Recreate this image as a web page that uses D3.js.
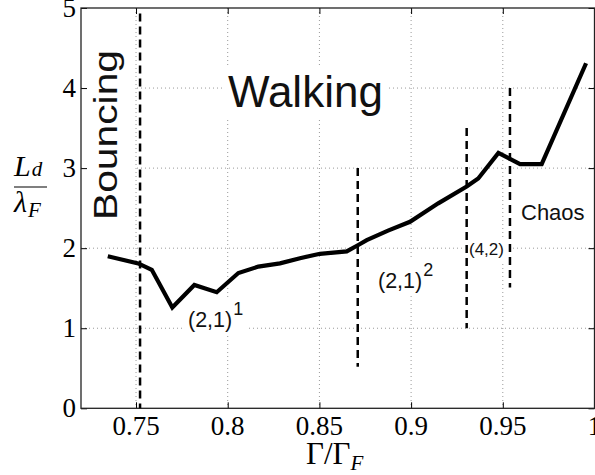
<!DOCTYPE html>
<html>
<head>
<meta charset="utf-8">
<script src="https://cdn.jsdelivr.net/npm/d3@7"></script>
<style>
  body { margin: 0; background: #fff; }
  svg { display: block; }
  .tick-lbl { font-family: "Liberation Serif", "DejaVu Serif", serif; font-size: 27px; fill: #000; }
  .ann { font-family: "Liberation Sans", Arial, sans-serif; fill: #111; }
</style>
</head>
<body>
<svg id="chart" width="595" height="475"></svg>
<script>
// donnees
const gamma = [0.7346, 0.7512, 0.7586, 0.7698, 0.7818, 0.7940, 0.8058, 0.8167, 0.8285, 0.8394,
               0.8503, 0.8649, 0.8712, 0.8758, 0.8874, 0.8994, 0.9148, 0.9303, 0.9366, 0.9476,
               0.9594, 0.9712, 0.9954];
const ld = [1.90, 1.81, 1.73, 1.26, 1.54, 1.45, 1.69, 1.77, 1.81, 1.875,
            1.93, 1.96, 2.04, 2.10, 2.22, 2.33, 2.56, 2.77, 2.87, 3.19,
            3.05, 3.05, 4.31];

// lignes pointillees verticales (limites des regimes)
const limX = [0.7522, 0.8709, 0.9303, 0.9539];
const limTop = [4.93, 3.0, 3.5, 4.0];
const limBottom = [0, 0.52, 1.0, 1.51];

const xTicks = [0.75, 0.8, 0.85, 0.9, 0.95, 1];
const xTickLabels = ["0.75", "0.8", "0.85", "0.9", "0.95", "1"];
const yTicks = [0, 1, 2, 3, 4, 5];

const svg = d3.select("#chart");
const mLeft = 81, mRight = 594.5, mTop = 8, mBottom = 408.3;

const x = d3.scaleLinear().domain([0.72, 1.0]).range([mLeft, mRight]);
const y = d3.scaleLinear().domain([0, 5]).range([mBottom, mTop]);

// grille
const grid = svg.append("g")
  .attr("stroke", "#999")
  .attr("stroke-width", 1)
  .attr("stroke-dasharray", "1,3");
grid.selectAll(".gx")
  .data(xTicks.filter(d => d < 1))
  .enter().append("line")
  .attr("x1", d => x(d)).attr("x2", d => x(d))
  .attr("y1", mTop).attr("y2", mBottom);
grid.selectAll(".gy")
  .data(yTicks.filter(d => d > 0 && d < 5))
  .enter().append("line")
  .attr("x1", mLeft).attr("x2", mRight)
  .attr("y1", d => y(d)).attr("y2", d => y(d));

// annotations avec fond blanc
const annG = svg.append("g").attr("id", "ann");

const walking = annG.append("text").attr("class", "ann")
  .attr("x", 228).attr("y", 107).attr("font-size", 44).text("Walking");
const bouncing = annG.append("text").attr("class", "ann")
  .attr("transform", "translate(117,220) rotate(-90)")
  .attr("font-size", 33)
  .attr("textLength", 170).attr("lengthAdjust", "spacingAndGlyphs")
  .text("Bouncing");
const l1 = annG.append("text").attr("class", "ann").attr("x", 188).attr("y", 327).attr("font-size", 21.5);
l1.append("tspan").text("(2,1)");
l1.append("tspan").attr("font-size", 18).attr("dy", -12).attr("dx", 1).text("1");
const l2 = annG.append("text").attr("class", "ann").attr("x", 378).attr("y", 288).attr("font-size", 21.5);
l2.append("tspan").text("(2,1)");
l2.append("tspan").attr("font-size", 18).attr("dy", -12).attr("dx", 1).text("2");
const l3 = annG.append("text").attr("class", "ann").attr("x", 469).attr("y", 255).attr("font-size", 17).text("(4,2)");
const l4 = annG.append("text").attr("class", "ann").attr("x", 521).attr("y", 220).attr("font-size", 22).text("Chaos");

// fonds blancs sous les textes
[walking, l1, l2, l3].forEach(t => {
  const b = t.node().getBBox();
  annG.insert("rect", "text")
    .attr("x", b.x - 4).attr("y", b.y - 2)
    .attr("width", b.width + 8).attr("height", b.height + 4)
    .attr("fill", "#fff");
});
annG.insert("rect", "text")
  .attr("x", mLeft + 1).attr("y", 32).attr("width", 53).attr("height", 192).attr("fill", "#fff");

// axes (ticks vers l'interieur, facon matlab)
svg.append("g")
  .attr("transform", `translate(0,${mBottom})`)
  .call(d3.axisTop(x).tickValues(xTicks).tickSize(6).tickFormat(""))
  .call(g => g.select(".domain").remove());
svg.append("g")
  .attr("transform", `translate(0,${mTop})`)
  .call(d3.axisBottom(x).tickValues(xTicks).tickSize(6).tickFormat(""))
  .call(g => g.select(".domain").remove());
svg.append("g")
  .attr("transform", `translate(${mLeft},0)`)
  .call(d3.axisRight(y).tickValues(yTicks).tickSize(6).tickFormat(""))
  .call(g => g.select(".domain").remove());
svg.append("g")
  .attr("transform", `translate(${mRight},0)`)
  .call(d3.axisLeft(y).tickValues(yTicks).tickSize(6).tickFormat(""))
  .call(g => g.select(".domain").remove());

svg.append("rect")
  .attr("x", mLeft).attr("y", mTop)
  .attr("width", mRight - mLeft).attr("height", mBottom - mTop)
  .attr("fill", "none").attr("stroke", "#222").attr("stroke-width", 1.3);

// labels des ticks
svg.selectAll(".xl")
  .data(xTicks)
  .enter().append("text")
  .attr("class", "tick-lbl")
  .attr("x", d => x(d))
  .attr("y", 435)
  .attr("text-anchor", "middle")
  .text((d, i) => xTickLabels[i]);
svg.selectAll(".yl")
  .data(yTicks)
  .enter().append("text")
  .attr("class", "tick-lbl")
  .attr("x", 76)
  .attr("y", d => y(d) + 9)
  .attr("text-anchor", "end")
  .text(d => d);

// titres des axes
const xt = svg.append("text")
  .attr("x", 306).attr("y", 464)
  .attr("font-family", "Liberation Serif, serif")
  .attr("font-size", 31);
xt.append("tspan").text("Γ/Γ");
xt.append("tspan").attr("font-style", "italic").attr("font-size", 21).attr("dy", 6).text("F");

const yl = svg.append("g").attr("font-family", "Liberation Serif, serif").attr("font-style", "italic");
const lt = yl.append("text").attr("x", 14).attr("y", 176).attr("font-size", 30);
lt.append("tspan").text("L");
lt.append("tspan").attr("font-size", 21).attr("dx", 1).text("d");
yl.append("line").attr("x1", 14).attr("x2", 47).attr("y1", 187).attr("y2", 187)
  .attr("stroke", "#000").attr("stroke-width", 1.2);
const lb = yl.append("text").attr("x", 14).attr("y", 212).attr("font-size", 30);
lb.append("tspan").text("λ");
lb.append("tspan").attr("font-size", 21).attr("dy", 5).attr("dx", 1).text("F");

const courbe = svg.append("g");

// lignes de separation en tirets
courbe.selectAll("line")
  .data(limX)
  .enter().append("line")
  .attr("x1", d => x(d)).attr("x2", d => x(d))
  .attr("y1", (d, i) => y(limTop[i]))
  .attr("y2", (d, i) => y(limBottom[i]))
  .attr("stroke", "#000")
  .attr("stroke-width", 2.5)
  .attr("stroke-dasharray", "8,5");

const line = d3.line()
  .x((d, i) => x(gamma[i]))
  .y(d => y(d));

courbe.append("path")
  .datum(ld)
  .attr("d", line)
  .attr("fill", "none")
  .attr("stroke", "#000")
  .attr("stroke-width", 4.2)
  .attr("stroke-linejoin", "miter");
</script>
</body>
</html>
